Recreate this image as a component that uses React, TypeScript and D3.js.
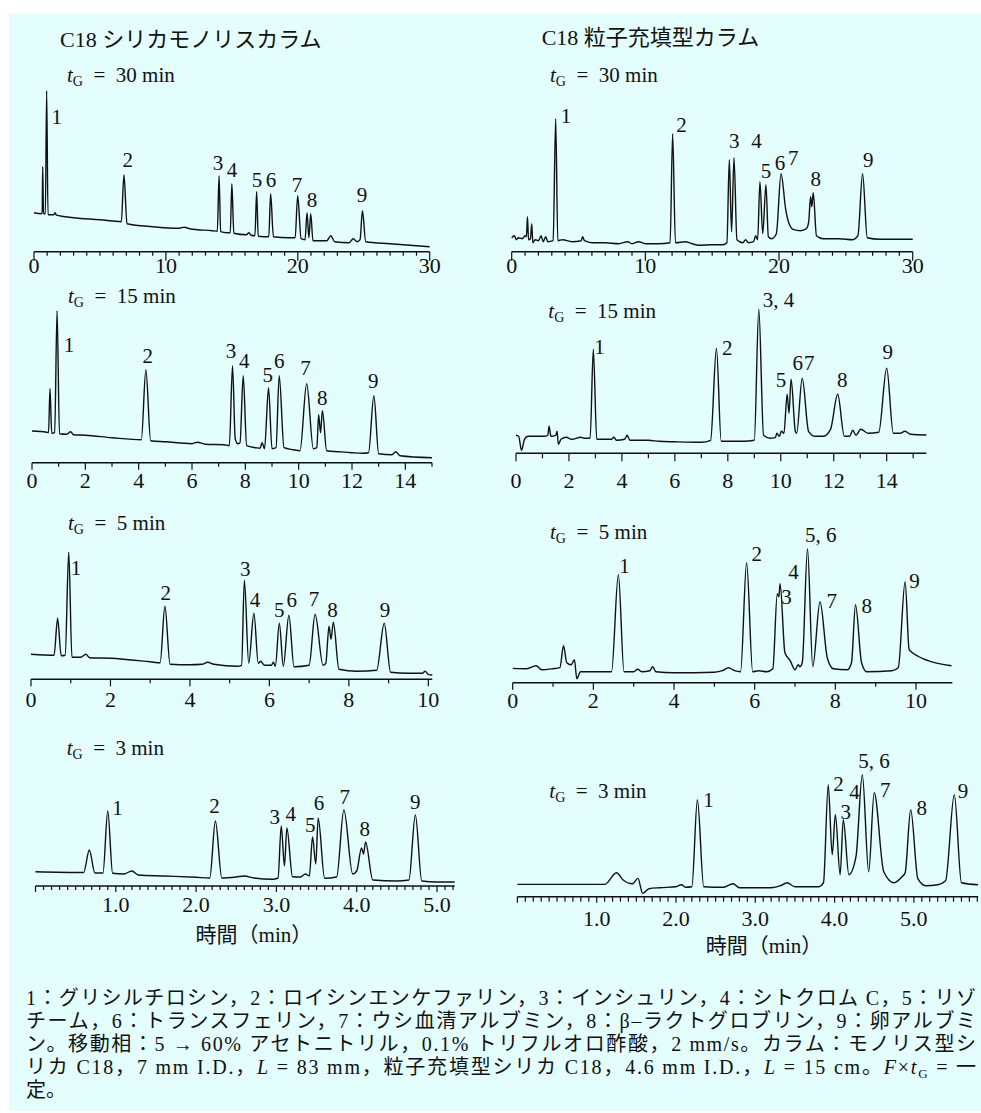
import React from "react";
import * as d3 from "d3";

type Pt = [number, number]; // [time (min), detector signal (a.u.)]
type Lab = [string, number, number]; // [text, time, signal]

// C18 monolith, tG = 30 min
const mono30Trace: Pt[] = [
  [0, 39], [0.55, 38], [0.62, 39], [0.66, 85], [0.72, 38], [0.86, 38], [0.96, 161], [1.06, 37],
  [1.5, 37], [1.6, 39], [1.7, 36.5], [3, 34], [5, 32], [6.62, 30], [6.82, 77], [7.05, 28], [9, 25],
  [11, 23.5], [11.4, 24.5], [11.8, 23], [13.5, 21], [13.9, 20.5], [14.03, 76], [14.15, 20],
  [14.6, 19], [14.88, 19], [15.0, 68], [15.15, 18.5], [16.1, 17], [16.3, 19], [16.45, 16.5],
  [16.75, 16], [16.88, 60], [17.0, 15.5], [17.8, 15], [17.94, 58], [18.15, 15], [19.3, 14],
  [19.8, 14], [19.99, 56], [20.25, 13], [20.55, 12], [20.7, 39], [20.84, 14], [20.98, 38],
  [21.15, 11], [22.2, 11], [22.5, 16], [22.8, 10], [23.9, 9], [24.2, 13], [24.5, 10], [24.72, 12],
  [24.9, 41], [25.15, 10], [27, 8], [30, 5],
];
// C18 particle-packed, tG = 30 min
const part30Trace: Pt[] = [
  [0, 14], [0.2, 16], [0.35, 12], [0.5, 14], [0.8, 13], [1.0, 16], [1.1, 15], [1.18, 35], [1.26, 12],
  [1.4, 13], [1.5, 28], [1.58, 9], [1.75, 12], [2.0, 11], [2.2, 16], [2.35, 10], [2.55, 15], [2.7, 10],
  [3.1, 11], [3.29, 133], [3.45, 11], [3.8, 12], [4.5, 10], [5.2, 11], [5.3, 15], [5.45, 11], [6, 9],
  [7, 9], [8, 8], [8.7, 10], [9, 8], [9.5, 10], [10, 8], [11, 8], [11.85, 9], [12.04, 118], [12.25, 9],
  [13, 10], [13.5, 8], [14, 6.5], [15, 7], [15.8, 7], [16.1, 9], [16.28, 92], [16.45, 20], [16.63, 94],
  [16.85, 12], [17.3, 9], [17.5, 12], [17.7, 9], [18.1, 10], [18.25, 16], [18.4, 12], [18.57, 70],
  [18.78, 18], [19.02, 67], [19.2, 15], [19.45, 13], [19.8, 18], [20.15, 78], [20.5, 42], [20.75, 28],
  [21.1, 22], [21.6, 21], [22.05, 23], [22.22, 30], [22.36, 55], [22.45, 45], [22.56, 59], [22.8, 16],
  [23.3, 13], [24.5, 13], [25.5, 12], [25.9, 16], [26.25, 78], [26.6, 14], [27.5, 12.5], [30, 12.5],
];
// C18 monolith, tG = 15 min
const mono15Trace: Pt[] = [
  [0, 31.7], [0.55, 30.5], [0.62, 30], [0.675, 74], [0.74, 29.5], [0.85, 30], [0.94, 152], [1.03, 29],
  [1.3, 28.5], [1.45, 31], [1.55, 28], [2, 27.5], [3, 25], [4.1, 23], [4.27, 93], [4.45, 22], [5, 21],
  [6, 19], [6.2, 20.5], [6.5, 18.5], [7.2, 18], [7.4, 17], [7.52, 97], [7.62, 24], [7.72, 19], [7.8, 20],
  [7.92, 87], [8.05, 17], [8.4, 15], [8.55, 14.5], [8.63, 20], [8.72, 14], [8.87, 75], [9.0, 14],
  [9.15, 15], [9.27, 87], [9.45, 15], [9.8, 13], [10.05, 12], [10.3, 79], [10.55, 14], [10.68, 15],
  [10.75, 48], [10.82, 30], [10.89, 52], [11.05, 12], [11.5, 11], [12, 10], [12.4, 9.5], [12.62, 10],
  [12.82, 67], [13.0, 9], [13.5, 8], [13.64, 11], [13.8, 7], [15, 5],
];
// C18 particle-packed, tG = 15 min
const part15Trace: Pt[] = [
  [0, 18], [0.1, 17], [0.21, 3], [0.32, 14], [0.45, 17], [0.6, 17], [1.1, 17], [1.2, 18], [1.25, 27],
  [1.32, 17], [1.5, 18], [1.55, 22], [1.6, 9], [1.7, 14], [1.9, 16], [2.1, 14], [2.45, 16], [2.6, 15],
  [2.8, 15], [2.92, 104], [3.05, 14], [3.6, 14], [3.7, 16], [3.8, 13], [4.1, 14], [4.2, 18], [4.3, 13],
  [5, 13], [5.4, 12], [6, 11.5], [7, 11], [7.35, 13], [7.57, 105], [7.75, 12], [8, 12], [8.6, 12],
  [9.0, 13], [9.17, 144], [9.35, 18], [9.6, 15], [9.8, 16], [9.85, 20], [9.95, 17], [10.02, 22],
  [10.12, 20], [10.24, 59], [10.31, 40], [10.39, 74], [10.55, 22], [10.6, 20], [10.81, 75], [11.05, 22],
  [11.3, 17], [11.6, 17], [11.88, 24], [12.15, 59], [12.4, 17], [12.6, 17], [12.72, 23], [12.84, 18],
  [13.02, 24], [13.3, 20], [13.7, 21], [14.0, 85], [14.25, 20], [14.5, 20], [14.69, 22], [14.9, 19],
  [15.5, 18.3],
];
// C18 monolith, tG = 5 min
const mono5Trace: Pt[] = [
  [0, 25], [0.58, 24], [0.67, 61], [0.76, 23.5], [0.86, 24], [0.95, 127], [1.03, 22], [1.25, 22],
  [1.38, 25], [1.48, 21.5], [2, 21], [3, 17.5], [3.25, 16.5], [3.37, 73], [3.5, 15], [4, 14.5],
  [4.3, 15], [4.45, 17], [4.6, 15], [5.2, 13], [5.3, 14], [5.37, 99], [5.48, 16], [5.61, 66],
  [5.72, 16], [5.78, 18], [5.88, 14], [6.05, 14], [6.1, 17], [6.15, 13], [6.25, 56], [6.35, 13],
  [6.49, 64], [6.62, 12.5], [7.0, 14], [7.15, 65], [7.35, 14], [7.42, 16], [7.5, 53], [7.55, 40],
  [7.61, 57], [7.75, 10], [8.2, 8], [8.7, 9], [8.89, 56], [9.05, 7], [9.5, 6], [9.85, 6], [9.92, 8],
  [10.0, 5], [10.1, 4.3],
];
// C18 particle-packed, tG = 5 min
const part5Trace: Pt[] = [
  [0, 14.3], [0.35, 14], [0.58, 17], [0.72, 13], [1.0, 14], [1.17, 15], [1.26, 37], [1.34, 20],
  [1.45, 18], [1.53, 23], [1.59, 4], [1.68, 11], [2.0, 11], [2.45, 11], [2.62, 108], [2.76, 11],
  [3.0, 11], [3.1, 13.5], [3.2, 11], [3.4, 12], [3.47, 16], [3.55, 11], [4, 10], [5, 10.5], [5.2, 12],
  [5.35, 15], [5.5, 12], [5.65, 11], [5.8, 120], [5.95, 11], [6.1, 12], [6.3, 11], [6.45, 14],
  [6.56, 89], [6.6, 86], [6.63, 99], [6.75, 30], [6.88, 22], [7.0, 13], [7.08, 18], [7.12, 16],
  [7.18, 20], [7.31, 134], [7.44, 16], [7.62, 81], [7.8, 25], [7.95, 14], [8.3, 13], [8.4, 20],
  [8.5, 78], [8.65, 20], [8.78, 11], [9.4, 12], [9.56, 15], [9.73, 101], [9.83, 33], [9.95, 29],
  [10.3, 22], [10.88, 17],
];
// C18 monolith, tG = 3 min
const mono3Trace: Pt[] = [
  [0, 14.3], [0.6, 13.5], [0.67, 36], [0.74, 13], [0.84, 13], [0.9, 75], [0.96, 12.7], [1.1, 12],
  [1.2, 15], [1.28, 11], [1.6, 10], [2.0, 8.7], [2.17, 8], [2.24, 65], [2.32, 8], [2.5, 9], [2.6, 10],
  [2.72, 8], [2.95, 6.7], [3.02, 8], [3.06, 60], [3.1, 20], [3.13, 58], [3.2, 9.3], [3.3, 9],
  [3.36, 12], [3.41, 10], [3.45, 49], [3.49, 22], [3.52, 68], [3.6, 7.7], [3.75, 9], [3.84, 76],
  [3.95, 12], [4.0, 15], [4.06, 38], [4.085, 32], [4.11, 44], [4.2, 6], [4.5, 5], [4.65, 6],
  [4.73, 71], [4.81, 5], [5.0, 4], [5.22, 4],
];
// C18 particle-packed, tG = 3 min
const part3Trace: Pt[] = [
  [0, 12.3], [1.1, 12.3], [1.25, 24], [1.33, 17], [1.45, 13], [1.52, 18.3], [1.58, 3.3], [1.66, 8],
  [1.8, 9], [2.0, 10], [2.07, 12], [2.12, 9.5], [2.2, 10], [2.27, 97], [2.35, 10], [2.6, 9.5],
  [2.72, 13], [2.8, 9], [3.2, 9], [3.32, 11], [3.4, 14], [3.5, 10], [3.8, 10], [3.86, 14],
  [3.92, 112], [3.97, 42], [4.01, 82], [4.07, 22], [4.11, 77], [4.18, 22], [4.27, 40], [4.35, 122],
  [4.43, 25], [4.5, 104], [4.62, 25], [4.75, 14], [4.85, 20], [4.89, 24], [4.96, 87], [5.05, 18],
  [5.15, 11], [5.3, 12], [5.4, 16], [5.51, 102], [5.6, 14], [5.81, 12],
];

// peak numbers
const mono30Labels: Lab[] = [
  ["1", 1.72, 127.7], ["2", 7.1, 84.7], ["3", 13.95, 81.7], ["4", 15.01, 74.7], ["5", 16.91, 64.7],
  ["6", 17.97, 64.7], ["7", 19.94, 59.7], ["8", 21.08, 44.7], ["9", 24.87, 49.7],
];
const part30Labels: Lab[] = [
  ["1", 4.06, 129], ["2", 12.71, 120], ["3", 16.65, 103.4], ["4", 18.32, 103.4], ["5", 19.02, 74],
  ["6", 20.07, 81.7], ["7", 21.06, 86.7], ["8", 22.74, 65.7], ["9", 26.67, 85],
];
const mono15Labels: Lab[] = [
  ["1", 1.39, 111], ["2", 4.34, 99.4], ["3", 7.46, 104.4], ["4", 7.96, 95], ["5", 8.84, 81],
  ["6", 9.27, 95], ["7", 10.26, 87.7], ["8", 10.88, 57.7], ["9", 12.8, 74.4],
];
const part15Labels: Lab[] = [
  ["1", 3.15, 99.3], ["2", 7.98, 98.3], ["3, 4", 9.32, 146.6], ["5", 10.01, 66], ["6", 10.64, 83.3],
  ["7", 11.08, 83.3], ["8", 12.32, 66.6], ["9", 14.04, 94.3],
];
const mono5Labels: Lab[] = [
  ["1", 1.13, 104.3], ["2", 3.39, 79.3], ["3", 5.39, 103.3], ["4", 5.64, 72.6], ["5", 6.25, 62],
  ["6", 6.56, 72.6], ["7", 7.12, 73.6], ["8", 7.59, 62.6], ["9", 8.91, 62.6],
];
const part5Labels: Lab[] = [
  ["1", 2.77, 109.4], ["2", 6.05, 122], ["3", 6.79, 78.4], ["4", 6.96, 103.4], ["5, 6", 7.25, 141],
  ["7", 7.91, 74.4], ["8", 8.78, 70], ["9", 9.96, 94.4],
];
const mono3Labels: Lab[] = [
  ["1", 1.02, 71], ["2", 2.23, 72.7], ["3", 2.98, 61.7], ["4", 3.18, 65], ["5", 3.42, 54.3],
  ["6", 3.53, 76], ["7", 3.85, 81.7], ["8", 4.1, 50], ["9", 4.73, 77],
];
const part3Labels: Lab[] = [
  ["1", 2.41, 90], ["2", 4.05, 106], ["3", 4.14, 77.4], ["4", 4.25, 97.4], ["5, 6", 4.3, 128.4],
  ["7", 4.64, 99.4], ["8", 5.1, 81.7], ["9", 5.62, 98.4],
];

// tick labels
const ticks30 = [0, 10, 20, 30];
const ticks15 = [0, 2, 4, 6, 8, 10, 12, 14];
const ticks10 = [0, 2, 4, 6, 8, 10];
const ticks5 = [1, 2, 3, 4, 5];

const columnTitles = ["C18 シリカモノリスカラム", "C18 粒子充填型カラム"];
const gradientTimes = ["30", "30", "15", "15", "5", "5", "3", "3"];
const xAxisTitle = "時間（min）";

const captionLines = [
  "1：グリシルチロシン，2：ロイシンエンケファリン，3：インシュリン，4：シトクロム C，5：リゾ",
  "チーム，6：トランスフェリン，7：ウシ血清アルブミン，8：β‒ラクトグロブリン，9：卵アルブミ",
  "ン。移動相：5 → 60% アセトニトリル，0.1% トリフルオロ酢酸，2 mm/s。カラム：モノリス型シ",
];

const SERIF = "'Liberation Serif', 'Noto Sans CJK JP', serif";
const INK = "#111";

interface PanelSpec {
  trace: Pt[];
  labels: Lab[];
  ticks: number[];
  domain: [number, number];
  range: [number, number];
  axisY: number;
  step: number;
  majorLen: number;
  minorLen: number;
  tickDy: number;
  fmt: (v: number) => string;
  tgAt: [number, number];
  xTitle?: [number, number];
}

const intFmt = (v: number) => String(v);
const decFmt = d3.format(".1f");

const panels: PanelSpec[] = [
  { trace: mono30Trace, labels: mono30Labels, ticks: ticks30, domain: [0, 30], range: [34, 429.7], axisY: 251.7,
    step: 1, majorLen: 9, minorLen: 4, tickDy: 21.5, fmt: intFmt, tgAt: [67, 82] },
  { trace: part30Trace, labels: part30Labels, ticks: ticks30, domain: [0, 30], range: [511.7, 912.7], axisY: 251.7,
    step: 1, majorLen: 9, minorLen: 4, tickDy: 21.5, fmt: intFmt, tgAt: [550, 82] },
  { trace: mono15Trace, labels: mono15Labels, ticks: ticks15, domain: [0, 15], range: [32, 432], axisY: 462.7,
    step: 1, majorLen: 7, minorLen: 4, tickDy: 25.6, fmt: intFmt, tgAt: [68, 303.3] },
  { trace: part15Trace, labels: part15Labels, ticks: ticks15, domain: [0, 15.5], range: [516, 926.4], axisY: 453.3,
    step: 1, majorLen: 8, minorLen: 5, tickDy: 35, fmt: intFmt, tgAt: [548.3, 318.3] },
  { trace: mono5Trace, labels: mono5Labels, ticks: ticks10, domain: [0, 10.1], range: [31, 432.3], axisY: 679.3,
    step: 1, majorLen: 7, minorLen: 4, tickDy: 27.4, fmt: intFmt, tgAt: [68, 530] },
  { trace: part5Trace, labels: part5Labels, ticks: ticks10, domain: [0, 10.9], range: [512.7, 952.3], axisY: 682.7,
    step: 1, majorLen: 7, minorLen: 4, tickDy: 25.7, fmt: intFmt, tgAt: [550, 539.3] },
  { trace: mono3Trace, labels: mono3Labels, ticks: ticks5, domain: [0, 5.22], range: [35.5, 454.7], axisY: 886,
    step: 0.1, majorLen: 6, minorLen: 4, tickDy: 25.7, fmt: decFmt, tgAt: [66.7, 755], xTitle: [2.72, 941.7] },
  { trace: part3Trace, labels: part3Labels, ticks: ticks5, domain: [0, 5.81], range: [517.4, 978.1], axisY: 896.7,
    step: 0.1, majorLen: 6, minorLen: 5, tickDy: 29, fmt: decFmt, tgAt: [549.3, 797.7], xTitle: [3.11, 953.3] },
];

function Chromatogram({ p, tg }: { p: PanelSpec; tg: string }) {
  const x = d3.scaleLinear().domain(p.domain).range(p.range);
  const y = d3.scaleLinear().domain([0, 180]).range([p.axisY, p.axisY - 180]);
  const line = d3
    .line<Pt>()
    .x((d) => x(d[0]))
    .y((d) => y(d[1]))
    .curve(d3.curveMonotoneX);

  const nSteps = Math.floor(p.domain[1] / p.step + 1e-6);
  const minor = d3.range(0, nSteps + 1).map((i) => +(i * p.step).toFixed(3));
  const isWhole = (v: number) => Math.abs(v - Math.round(v)) < 1e-6;
  const isMajor = (v: number) =>
    p.step < 1 ? isWhole(v) : p.ticks.some((t) => Math.abs(t - v) < 1e-6);

  return (
    <g>
      <text x={p.tgAt[0]} y={p.tgAt[1]} fontSize={21} fontFamily={SERIF} fill={INK}>
        <tspan fontStyle="italic">t</tspan>
        <tspan fontSize={14} dy={4}>G</tspan>
        <tspan dy={-4}>{"\u2002=\u2002" + tg + " min"}</tspan>
      </text>

      <path d={line(p.trace) || ""} fill="none" stroke={INK} strokeWidth={1.4} strokeLinejoin="round" />

      <line x1={x(p.domain[0])} x2={x(p.domain[1])} y1={p.axisY} y2={p.axisY} stroke={INK} strokeWidth={1.4} />
      {minor.map((v) => (
        <line
          key={v}
          x1={x(v)}
          x2={x(v)}
          y1={p.axisY}
          y2={p.axisY + (isMajor(v) ? p.majorLen : p.minorLen)}
          stroke={INK}
          strokeWidth={1.2}
        />
      ))}
      {p.ticks.map((t) => (
        <text
          key={t}
          x={x(t)}
          y={p.axisY + p.tickDy}
          textAnchor="middle"
          fontSize={22}
          fontFamily={SERIF}
          fill={INK}
        >
          {p.fmt(t)}
        </text>
      ))}

      {p.labels.map(([txt, t, v]) => (
        <text
          key={txt}
          x={x(t)}
          y={y(v)}
          textAnchor={txt.length > 1 ? "start" : "middle"}
          fontSize={21}
          fontFamily={SERIF}
          fill={INK}
        >
          {txt}
        </text>
      ))}

      {p.xTitle && (
        <text x={x(p.xTitle[0])} y={p.xTitle[1]} textAnchor="middle" fontSize={21} fontFamily={SERIF} fill={INK}>
          {xAxisTitle}
        </text>
      )}
    </g>
  );
}

export default function App() {
  const capX = 26;
  const capW = 950;
  const capY = [1005, 1028, 1051, 1074, 1097];
  return (
    <div style={{ position: "absolute", left: 0, top: 0 }}>
      <svg width={981} height={1113} viewBox="0 0 981 1113" style={{ display: "block", background: "#fff" }}>
        <rect x={9} y={13} width={972} height={1098} fill="#e4fdfd" />

        <text x={60} y={47} fontSize={22} fontFamily={SERIF} fill={INK}>{columnTitles[0]}</text>
        <text x={541.7} y={45} fontSize={22} fontFamily={SERIF} fill={INK}>{columnTitles[1]}</text>

        {panels.map((p, i) => (
          <Chromatogram key={i} p={p} tg={gradientTimes[i]} />
        ))}

        <g fontFamily={SERIF} fontSize={20} fill={INK}>
          {captionLines.map((l, i) => (
            <text key={i} x={capX} y={capY[i]} textLength={capW} lengthAdjust="spacing">
              {l}
            </text>
          ))}
          <text x={capX} y={capY[3]} textLength={capW} lengthAdjust="spacing">
            リカ C18，7 mm I.D.，<tspan fontStyle="italic">L</tspan> = 83 mm，粒子充填型シリカ C18，4.6 mm I.D.，
            <tspan fontStyle="italic">L</tspan> = 15 cm。<tspan fontStyle="italic">F</tspan>×
            <tspan fontStyle="italic">t</tspan>
            <tspan fontSize={13} dy={4}>G</tspan>
            <tspan dy={-4}> = 一</tspan>
          </text>
          <text x={capX} y={capY[4]}>定。</text>
        </g>
      </svg>
    </div>
  );
}
